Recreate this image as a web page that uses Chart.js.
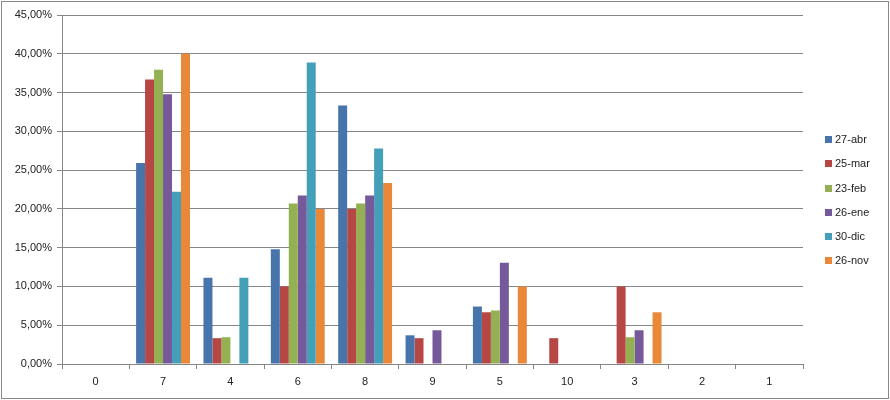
<!DOCTYPE html>
<html>
<head>
<meta charset="utf-8">
<script src="https://cdn.jsdelivr.net/npm/chart.js@4"></script>
<style>
  body { margin: 0; background: #fff; }
  #wrap { position: relative; width: 890px; height: 400px; }
  #legend { position: absolute; left: 825px; top: 133px; font: 11px "Liberation Sans", sans-serif; color: #222; }
  #legend .item { height: 24.3px; display: flex; align-items: flex-start; }
  #legend .box { width: 7px; height: 7px; margin-top: 3px; margin-right: 3px; }
</style>
</head>
<body>
<div id="wrap">
  <canvas id="chart" width="890" height="400"></canvas>
  <div id="legend"></div>
</div>
<script>
// categories (x axis) and values in percent
const categories = ['0', '7', '4', '6', '8', '9', '5', '10', '3', '2', '1'];
const seriesNames = ['27-abr', '25-mar', '23-feb', '26-ene', '30-dic', '26-nov'];
const abr27 = [0, 25.93, 11.11, 14.81, 33.33, 3.70, 7.41, 0, 0, 0, 0];
const mar25 = [0, 36.67, 3.33, 10.00, 20.00, 3.33, 6.67, 3.33, 10.00, 0, 0];
const feb23 = [0, 37.93, 3.45, 20.69, 20.69, 0, 6.90, 0, 3.45, 0, 0];
const ene26 = [0, 34.78, 0, 21.74, 21.74, 4.35, 13.04, 0, 4.35, 0, 0];
const dic30 = [0, 22.22, 11.11, 38.89, 27.78, 0, 0, 0, 0, 0, 0];
const nov26 = [0, 40.00, 0, 20.00, 23.33, 0, 10.00, 0, 6.67, 0, 0];
const yMax = 45;
const yStep = 5;

const colors = ['#4674AB', '#B74744', '#93B152', '#75599A', '#44A0B9', '#E98838'];
const seriesValues = [abr27, mar25, feb23, ene26, dic30, nov26];
const gridColor = '#868686';

const datasets = seriesNames.map((name, i) => ({
    label: name,
    data: seriesValues[i],
    backgroundColor: colors[i],
    borderWidth: 0,
    categoryPercentage: 0.8,
    barPercentage: 1.0
}));

// outer frame of the chart area
const frame = {
    id: 'frame',
    afterDraw(chart) {
        const ctx = chart.ctx;
        ctx.save();
        ctx.strokeStyle = '#8a8a8a';
        ctx.lineWidth = 1;
        ctx.strokeRect(1.5, 1.5, 887, 397);
        ctx.restore();
    }
};

const font = { family: '"Liberation Sans", sans-serif', size: 11 };

new Chart(document.getElementById('chart'), {
    type: 'bar',
    data: { labels: categories, datasets: datasets },
    options: {
        responsive: false,
        animation: false,
        layout: { padding: { top: 15, right: 87, left: 0, bottom: 0 } },
        plugins: {
            legend: { display: false },
            tooltip: { enabled: false }
        },
        scales: {
            x: {
                afterFit: (scale) => { scale.height = 36; },
                grid: {
                    offset: true,
                    drawOnChartArea: false,
                    tickLength: 5,
                    color: gridColor
                },
                border: { color: gridColor },
                ticks: { color: '#222', font: font, padding: 6 }
            },
            y: {
                min: 0,
                max: yMax,
                afterFit: (scale) => { scale.width = 62; },
                grid: { color: gridColor, tickLength: 5 },
                border: { color: gridColor },
                ticks: {
                    stepSize: yStep,
                    color: '#222',
                    font: font,
                    padding: 5,
                    callback: (v) => v.toFixed(2).replace('.', ',') + '%'
                }
            }
        }
    },
    plugins: [frame]
});

// legend on the right
const legend = document.getElementById('legend');
seriesNames.forEach((name, i) => {
    const item = document.createElement('div');
    item.className = 'item';
    item.innerHTML = '<div class="box" style="background:' + colors[i] + '"></div><span>' + name + '</span>';
    legend.appendChild(item);
});
</script>
</body>
</html>
